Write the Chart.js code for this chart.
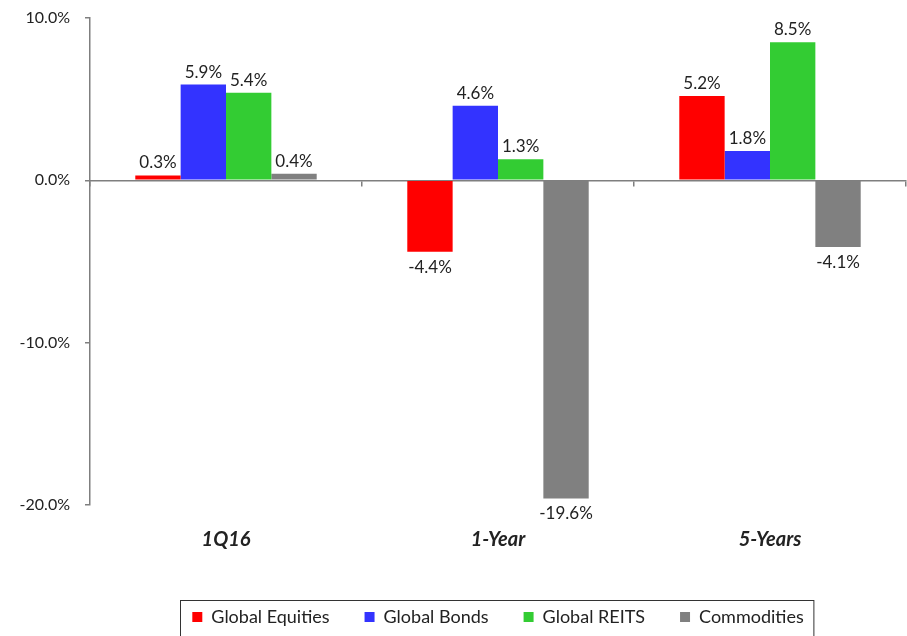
<!DOCTYPE html>
<html>
<head>
<meta charset="utf-8">
<script src="https://cdn.jsdelivr.net/npm/chart.js@4"></script>
<style>
  html, body { margin: 0; padding: 0; background: #fff; }
  canvas { display: block; }
</style>
</head>
<body>
<canvas id="chart1" width="907" height="636"></canvas>
<script>
const periods = ['1Q16', '1-Year', '5-Years'];
const equities = [0.3, -4.4, 5.2];
const bonds = [5.9, 4.6, 1.8];
const reits = [5.4, 1.3, 8.5];
const commodities = [0.4, -19.6, -4.1];
const yTicks = [-20, -10, 0, 10];

const axisGray = '#7f7f7f';
const textColor = '#222';
const fontFamily = 'Lato, "DejaVu Sans", sans-serif';

// value labels above positive bars and below negative ones
const barLabels = {
    id: 'barLabels',
    afterDatasetsDraw(chart) {
        const ctx = chart.ctx;
        ctx.save();
        ctx.font = '17px ' + fontFamily;
        ctx.fillStyle = textColor;
        ctx.textAlign = 'center';
        chart.data.datasets.forEach((ds, i) => {
            const meta = chart.getDatasetMeta(i);
            meta.data.forEach((bar, j) => {
                const v = ds.data[j];
                if (v >= 0) {
                    ctx.textBaseline = 'bottom';
                    ctx.fillText(v.toFixed(1) + '%', bar.x, bar.y - 4);
                } else {
                    ctx.textBaseline = 'top';
                    ctx.fillText(v.toFixed(1) + '%', bar.x, bar.y + 7);
                }
            });
        });
        ctx.restore();
    }
};

// thin frame round the legend items
const legendFrame = {
    id: 'legendFrame',
    afterDraw(chart) {
        const boxes = chart.legend.legendHitBoxes;
        if (!boxes || !boxes.length) return;
        const left = Math.min(...boxes.map(b => b.left)) - 12;
        const right = Math.max(...boxes.map(b => b.left + b.width)) + 10;
        const mid = boxes[0].top + boxes[0].height / 2;
        const ctx = chart.ctx;
        ctx.save();
        ctx.strokeStyle = '#333';
        ctx.lineWidth = 1;
        ctx.strokeRect(Math.round(left) + 0.5, Math.round(mid - 17) + 0.5, right - left, 40);
        ctx.restore();
    }
};

const ctx1 = document.getElementById('chart1').getContext('2d');

new Chart(ctx1, {
    type: 'bar',
    data: {
        labels: periods,
        datasets: [
            { label: 'Global Equities', data: equities, backgroundColor: '#ff0000' },
            { label: 'Global Bonds', data: bonds, backgroundColor: '#3333ff' },
            { label: 'Global REITS', data: reits, backgroundColor: '#33cc33' },
            { label: 'Commodities', data: commodities, backgroundColor: '#808080' }
        ]
    },
    options: {
        responsive: false,
        animation: false,
        devicePixelRatio: 1,
        layout: {
            padding: { top: 18, right: 1, left: 0, bottom: 0 }
        },
        datasets: {
            bar: {
                categoryPercentage: 0.667,
                barPercentage: 1,
                borderWidth: 0
            }
        },
        scales: {
            x: {
                position: { y: 0 },
                offset: true,
                grid: {
                    offset: true,
                    drawOnChartArea: false,
                    color: axisGray,
                    tickLength: 5,
                    lineWidth: 1.5
                },
                border: { color: axisGray, width: 1.5 },
                ticks: { display: false },
                afterFit: scale => { scale.height = 0; }
            },
            x2: {
                type: 'category',
                labels: periods,
                position: 'bottom',
                offset: true,
                grid: { display: false },
                border: { display: false },
                ticks: {
                    padding: 15,
                    color: textColor,
                    font: { family: fontFamily, size: 20, weight: 'bold', style: 'italic' }
                },
                afterFit: scale => { scale.height = 68; }
            },
            y: {
                min: -20,
                max: 10,
                afterBuildTicks: scale => {
                    scale.ticks = yTicks.map(v => ({ value: v }));
                },
                grid: {
                    drawOnChartArea: false,
                    color: axisGray,
                    tickLength: 5,
                    lineWidth: 1.5
                },
                border: { color: axisGray, width: 1.5 },
                ticks: {
                    padding: 15,
                    color: textColor,
                    font: { family: fontFamily, size: 16 },
                    callback: v => v.toFixed(1) + '%'
                },
                afterFit: scale => {
                    scale.width = 90;
                    scale.paddingTop = 0;
                    scale.paddingBottom = 0;
                }
            }
        },
        plugins: {
            legend: {
                position: 'bottom',
                fullSize: false,
                labels: {
                    boxWidth: 10,
                    boxHeight: 10,
                    padding: 35,
                    color: textColor,
                    font: { family: fontFamily, size: 18 }
                }
            },
            tooltip: { enabled: false }
        }
    },
    plugins: [barLabels, legendFrame]
});
</script>
</body>
</html>
